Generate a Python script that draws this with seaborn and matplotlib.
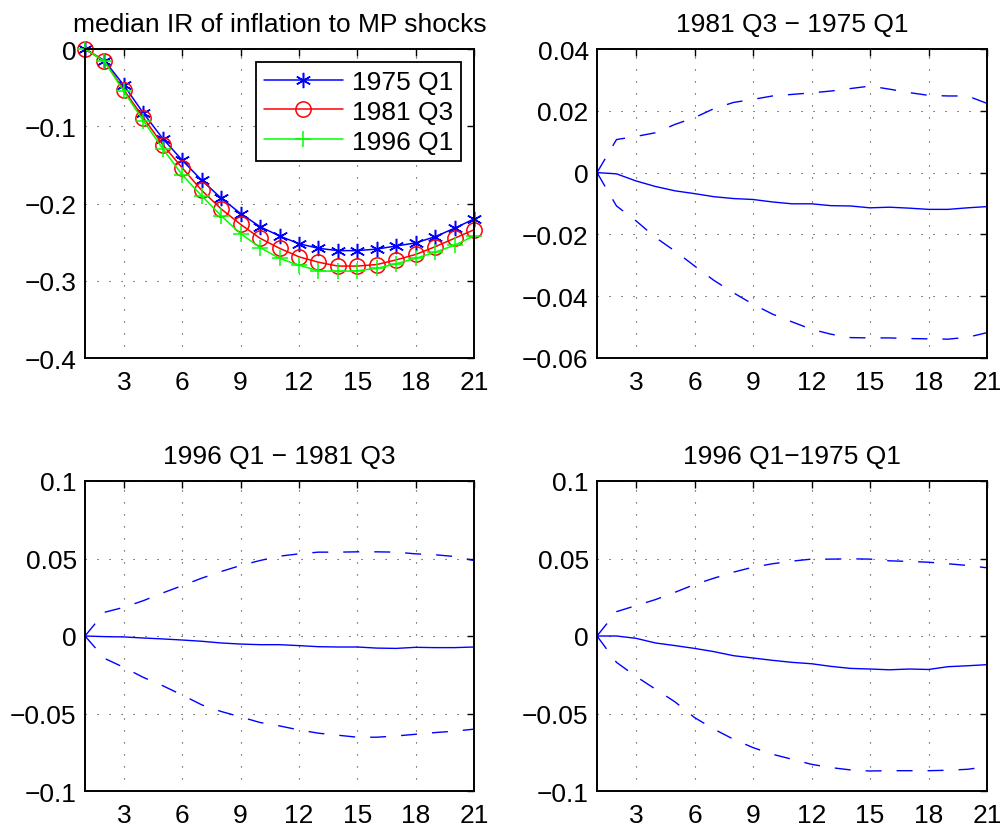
import numpy as np
import pandas as pd
import matplotlib
matplotlib.use("Agg")
import matplotlib.pyplot as plt
from matplotlib.ticker import FuncFormatter, FixedLocator
import seaborn as sns

# ---------------- data ----------------
horizon = list(range(1, 22))

ir_1975 = [0, -0.015, -0.047, -0.083, -0.116, -0.144, -0.170, -0.193, -0.213, -0.230, -0.242,
           -0.252, -0.258, -0.261, -0.261, -0.259, -0.255, -0.251, -0.243, -0.232, -0.220]
ir_1981 = [0, -0.016, -0.053, -0.089, -0.124, -0.154, -0.183, -0.207, -0.227, -0.245, -0.258,
           -0.269, -0.276, -0.281, -0.281, -0.279, -0.273, -0.266, -0.256, -0.245, -0.234]
ir_1996 = [0, -0.016, -0.055, -0.093, -0.129, -0.163, -0.190, -0.216, -0.239, -0.257, -0.271,
           -0.280, -0.287, -0.288, -0.287, -0.284, -0.278, -0.271, -0.263, -0.254, -0.242]

d81_75_med = [0, -0.0004, -0.0027, -0.0045, -0.0059, -0.0068, -0.0078, -0.0084, -0.0087, -0.0095, -0.0101,
              -0.0101, -0.0107, -0.0108, -0.0114, -0.0112, -0.0115, -0.0119, -0.0119, -0.0114, -0.0110]
d81_75_hi = [0, 0.0107, 0.0117, 0.0129, 0.0156, 0.0178, 0.0207, 0.0227, 0.0237, 0.0248, 0.0253,
             0.0258, 0.0264, 0.0272, 0.0280, 0.0270, 0.0259, 0.0250, 0.0248, 0.0248, 0.0224]
d81_75_lo = [0, -0.0108, -0.0156, -0.0210, -0.0254, -0.0302, -0.0349, -0.0389, -0.0426, -0.0458, -0.0483,
             -0.0507, -0.0523, -0.0534, -0.0535, -0.0535, -0.0537, -0.0538, -0.0539, -0.0533, -0.0518]

d96_81_med = [0, -0.0004, -0.0006, -0.0013, -0.0019, -0.0026, -0.0034, -0.0045, -0.0052, -0.0056, -0.0056,
              -0.0062, -0.0069, -0.0071, -0.0071, -0.0078, -0.0080, -0.0073, -0.0075, -0.0075, -0.0071]
d96_81_hi = [0, 0.0153, 0.0185, 0.0228, 0.0278, 0.0325, 0.0373, 0.0416, 0.0455, 0.0487, 0.0515,
             0.0530, 0.0541, 0.0541, 0.0543, 0.0543, 0.0541, 0.0530, 0.0524, 0.0513, 0.0487]
d96_81_lo = [0, -0.0144, -0.0203, -0.0267, -0.0321, -0.0381, -0.0444, -0.0487, -0.0522, -0.0558, -0.0580,
             -0.0606, -0.0627, -0.0640, -0.0653, -0.0653, -0.0645, -0.0634, -0.0623, -0.0614, -0.0601]

d96_75_med = [0, 0, -0.0015, -0.0045, -0.0062, -0.0080, -0.0101, -0.0127, -0.0142, -0.0157, -0.0170,
              -0.0179, -0.0196, -0.0209, -0.0213, -0.0218, -0.0213, -0.0216, -0.0198, -0.0192, -0.0185]
d96_75_hi = [0, 0.0157, 0.0196, 0.0235, 0.0282, 0.0332, 0.0373, 0.0412, 0.0444, 0.0466, 0.0483,
             0.0496, 0.0496, 0.0498, 0.0496, 0.0485, 0.0481, 0.0476, 0.0466, 0.0455, 0.0440]
d96_75_lo = [0, -0.0170, -0.0261, -0.0343, -0.0425, -0.0526, -0.0601, -0.0666, -0.0720, -0.0763, -0.0795,
             -0.0828, -0.0849, -0.0864, -0.0871, -0.0869, -0.0869, -0.0869, -0.0866, -0.0860, -0.0843]

legend_labels = ["1975 Q1", "1981 Q3", "1996 Q1"]
titles = ["median IR of inflation to MP shocks", "1981 Q3 \u2212 1975 Q1",
          "1996 Q1 \u2212 1981 Q3", "1996 Q1\u22121975 Q1"]
xticks = [3, 6, 9, 12, 15, 18, 21]

# ---------------- style ----------------
sns.set_style("white")
plt.rcParams['font.family'] = ['Liberation Sans', 'DejaVu Sans']
plt.rcParams['axes.unicode_minus'] = True
plt.rcParams['text.color'] = 'black'

FS = 19
TFS = 19

fig = plt.figure(figsize=(10, 8.29), dpi=100)
W, H = 1000, 829
def place(l, t, r, b):
    return fig.add_axes([l / W, 1 - b / H, (r - l) / W, (b - t) / H])

ax1 = place(85, 50, 474, 359)
ax2 = place(597, 50, 987, 359)
ax3 = place(85, 482, 474, 792)
ax4 = place(597, 482, 987, 792)

def fmt(v, pos):
    s = "%g" % round(v, 6)
    if s == "-0":
        s = "0"
    return s.replace("-", "\u2212")

def style(ax, ylim, yticks, title):
    ax.set_xlim(1, 21)
    ax.set_ylim(*ylim)
    ax.xaxis.set_major_locator(FixedLocator(xticks))
    ax.yaxis.set_major_locator(FixedLocator(yticks))
    ax.yaxis.set_major_formatter(FuncFormatter(fmt))
    ax.tick_params(direction="in", length=5, width=1.0, top=True, right=True,
                   labelsize=FS, colors="black")
    ax.tick_params(axis="x", pad=9)
    ax.tick_params(axis="y", pad=6)
    ax.grid(True, linestyle=(0, (1, 9.8)), color="#333333", linewidth=0.8)
    for sp in ax.spines.values():
        sp.set_visible(True)
        sp.set_color("black")
        sp.set_linewidth(1.4)
    ax.set_xlabel("")
    ax.set_ylabel("")
    ax.set_title(title, fontsize=TFS, pad=13, color="black")

# Panel 1
df1 = pd.DataFrame({"h": horizon * 3,
                    "v": ir_1975 + ir_1981 + ir_1996,
                    "s": [legend_labels[0]] * 21 + [legend_labels[1]] * 21 + [legend_labels[2]] * 21})
palette = {legend_labels[0]: "#0000ff", legend_labels[1]: "#ff0000", legend_labels[2]: "#00ff00"}
markers = {legend_labels[0]: (6, 2, 0), legend_labels[1]: "o", legend_labels[2]: "+"}
msize = {legend_labels[0]: 11, legend_labels[1]: 11, legend_labels[2]: 11}
for lab in legend_labels:
    sub = df1[df1["s"] == lab]
    mk = markers[lab]
    kw = dict(marker=mk, markersize=msize[lab],
              markeredgewidth=1.1, markeredgecolor=palette[lab])
    if mk == "o":
        kw["markerfacecolor"] = "none"
    sns.lineplot(data=sub, x="h", y="v", ax=ax1, color=palette[lab], linewidth=1.1,
                 label=lab, legend=False, **kw)
for ln in ax1.lines:
    ln.set_clip_on(False)
style(ax1, (-0.4, 0), [-0.4, -0.3, -0.2, -0.1, 0], titles[0])
leg = ax1.legend(loc="upper right", fontsize=FS, frameon=True, fancybox=False,
                 edgecolor="black", framealpha=1, handlelength=3.0, borderpad=0.3,
                 labelspacing=0.22, handletextpad=0.35, borderaxespad=0,
                 bbox_to_anchor=(0.967, 0.958))
leg.get_frame().set_linewidth(1.3)

DASH = [11.5, 10.8]

def diff_panel(ax, med, hi, lo, ylim, yticks, title):
    dfp = pd.DataFrame({"h": horizon, "med": med, "hi": hi, "lo": lo})
    sns.lineplot(data=dfp, x="h", y="med", ax=ax, color="#0000ff", linewidth=1.0)
    sns.lineplot(data=dfp, x="h", y="hi", ax=ax, color="#0000ff", linewidth=1.0).lines[-1].set_dashes(DASH)
    sns.lineplot(data=dfp, x="h", y="lo", ax=ax, color="#0000ff", linewidth=1.0).lines[-1].set_dashes(DASH)
    style(ax, ylim, yticks, title)

diff_panel(ax2, d81_75_med, d81_75_hi, d81_75_lo, (-0.06, 0.04),
           [-0.06, -0.04, -0.02, 0, 0.02, 0.04], titles[1])
diff_panel(ax3, d96_81_med, d96_81_hi, d96_81_lo, (-0.1, 0.1),
           [-0.1, -0.05, 0, 0.05, 0.1], titles[2])
diff_panel(ax4, d96_75_med, d96_75_hi, d96_75_lo, (-0.1, 0.1),
           [-0.1, -0.05, 0, 0.05, 0.1], titles[3])

fig.savefig("out.png", dpi=100, facecolor="white")
